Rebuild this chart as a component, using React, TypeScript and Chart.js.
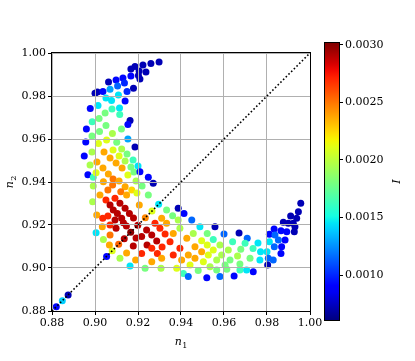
import React, { useEffect, useRef } from "react";
import { Chart, registerables } from "chart.js";

Chart.register(...registerables);

// ---------------- data ----------------
const n1Values = [
  // lower-left points on the diagonal
  0.8820, 0.8848, 0.8875,
  // points on the diagonal
  0.9054, 0.9080, 0.9110, 0.9136, 0.9166, 0.9199, 0.9234, 0.9265, 0.9296,
  // upper arm
  0.9298, 0.9260, 0.9223, 0.9186, 0.9167, 0.9237, 0.9205, 0.9202, 0.9209, 0.9167,
  0.9130, 0.9098, 0.9063, 0.9137, 0.9105, 0.9070, 0.9179, 0.9011, 0.9000, 0.9037,
  0.9149, 0.9109, 0.9051, 0.9077, 0.9140, 0.8978, 0.9014, 0.9079, 0.9114, 0.9115,
  0.9047, 0.9019, 0.9163, 0.8987, 0.9051, 0.9153, 0.9123, 0.8960, 0.9021, 0.9081,
  0.8986, 0.9153, 0.8957, 0.9054, 0.9016, 0.9101, 0.9186,
  // core, upper part
  0.8950, 0.8986, 0.9042, 0.9084, 0.9124, 0.9070, 0.9112, 0.9149, 0.9098, 0.9140,
  0.9177, 0.8977, 0.9009, 0.9126, 0.9167, 0.9200, 0.8967, 0.8992, 0.9005, 0.9037,
  0.9062, 0.9084, 0.9153, 0.9181, 0.9209, 0.9248, 0.9271, 0.9191, 0.9219, 0.9248,
  0.8992, 0.9039, 0.9082, 0.9112, 0.9140, 0.9171, 0.9120, 0.9147, 0.9023, 0.9051,
  0.8989, 0.9093, 0.9206, 0.9195,
  // core, middle
  0.9116, 0.9140, 0.9160, 0.9070, 0.9085, 0.9104, 0.9124, 0.9132, 0.9179, 0.9008,
  0.9036, 0.9070, 0.9098, 0.9005, 0.9039, 0.9067, 0.9279, 0.9302, 0.9240, 0.9264,
  0.9217, 0.9242, 0.9217, 0.9147, 0.9310, 0.9333, 0.9326, 0.9349, 0.9287, 0.9264,
  0.9290, 0.9310, 0.9178, 0.9034, 0.9116, 0.9163, 0.9189, 0.9233, 0.9264, 0.9307,
  0.9070, 0.9146, 0.9191, 0.9093, 0.9060, 0.9060, 0.9312,
  // right arm
  0.9387, 0.9414, 0.9450, 0.9488, 0.9558, 0.9600, 0.9640, 0.9678, 0.9670, 0.9333,
  0.9361, 0.9395, 0.9387, 0.9457, 0.9522, 0.9550, 0.9581, 0.9620, 0.9663, 0.9496,
  0.9522, 0.9550, 0.9589, 0.9628, 0.9674, 0.9427, 0.9465, 0.9496, 0.9527, 0.9566,
  0.9605, 0.9364, 0.9395, 0.9434, 0.9465, 0.9504, 0.9535, 0.9566, 0.9364, 0.9403,
  0.9442, 0.9480, 0.9380, 0.9411, 0.9434, 0.9520, 0.9581, 0.9647, 0.9613,
  0.9674, 0.9736, 0.9708, 0.9758, 0.9735, 0.9770, 0.9767, 0.9705, 0.9957, 0.9946,
  0.9910, 0.9938, 0.9876, 0.9899, 0.9922, 0.9930, 0.9927, 0.9833, 0.9865, 0.9892,
  0.9811, 0.9837, 0.9884, 0.9853, 0.9811, 0.9834, 0.9865, 0.9868, 0.9800, 0.9806,
  0.9829, 0.9803, 0.9721, 0.9698,
];

const n2Values = [
  0.8820, 0.8848, 0.8875,
  0.9054, 0.9080, 0.9110, 0.9136, 0.9166, 0.9199, 0.9234, 0.9265, 0.9296,
  0.9958, 0.9951, 0.9944, 0.9937, 0.9926, 0.9912, 0.9916, 0.9895, 0.9879, 0.9893,
  0.9884, 0.9874, 0.9865, 0.9860, 0.9847, 0.9831, 0.9836, 0.9819, 0.9813, 0.9821,
  0.9821, 0.9805, 0.9791, 0.9779, 0.9777, 0.9742, 0.9756, 0.9740, 0.9744, 0.9714,
  0.9721, 0.9695, 0.9686, 0.9680, 0.9663, 0.9667, 0.9647, 0.9647, 0.9635, 0.9626,
  0.9614, 0.9600, 0.9586, 0.9595, 0.9579, 0.9585, 0.9563,
  0.9521, 0.9540, 0.9540, 0.9549, 0.9553, 0.9512, 0.9521, 0.9530, 0.9488, 0.9498,
  0.9502, 0.9479, 0.9493, 0.9465, 0.9470, 0.9474, 0.9434, 0.9422, 0.9443, 0.9465,
  0.9437, 0.9414, 0.9433, 0.9447, 0.9448, 0.9422, 0.9394, 0.9405, 0.9381, 0.9340,
  0.9381, 0.9401, 0.9386, 0.9405, 0.9378, 0.9363, 0.9355, 0.9340, 0.9340, 0.9316,
  0.9308, 0.9324, 0.9293, 0.9349,
  0.9301, 0.9278, 0.9254, 0.9293, 0.9270, 0.9254, 0.9231, 0.9211, 0.9233, 0.9247,
  0.9231, 0.9200, 0.9185, 0.9164, 0.9133, 0.9107, 0.9208, 0.9185, 0.9177, 0.9153,
  0.9146, 0.9107, 0.9068, 0.9070, 0.9231, 0.9208, 0.9158, 0.9122, 0.9126, 0.9092,
  0.9068, 0.9045, 0.9102, 0.9192, 0.9045, 0.9009, 0.9037, 0.8999, 0.9029, 0.8999,
  0.9153, 0.9195, 0.9140, 0.9223, 0.9242, 0.9363, 0.9098,
  0.9278, 0.9254, 0.9223, 0.9192, 0.9192, 0.9158, 0.9122, 0.9087, 0.9163, 0.9270,
  0.9243, 0.9185, 0.9223, 0.9161, 0.9161, 0.9133, 0.9107, 0.9084, 0.9056, 0.9127,
  0.9107, 0.9084, 0.9060, 0.9037, 0.9019, 0.9138, 0.9099, 0.9076, 0.9060, 0.9037,
  0.9014, 0.9161, 0.9092, 0.9060, 0.9045, 0.9029, 0.9006, 0.8991, 0.9060, 0.9037,
  0.9014, 0.8988, 0.8999, 0.8975, 0.8961, 0.8955, 0.8960, 0.8963, 0.8994,
  0.8991, 0.8983, 0.9138, 0.9116, 0.9091, 0.9076, 0.9037, 0.8991, 0.9301, 0.9262,
  0.9242, 0.9231, 0.9213, 0.9208, 0.9208, 0.9192, 0.9169, 0.9181, 0.9173, 0.9169,
  0.9157, 0.9153, 0.9130, 0.9130, 0.9122, 0.9099, 0.9068, 0.9099, 0.9076, 0.9045,
  0.9037, 0.9014, 0.9045, 0.9115,
];

const intensityValues = [
  0.00092, 0.0014, 0.00072,
  0.00092, 0.0021, 0.00255, 0.0029, 0.003, 0.0029, 0.00245, 0.0021, 0.00145,
  0.00072, 0.00072, 0.00072, 0.00072, 0.00072, 0.00072, 0.00072, 0.00072, 0.00072, 0.00092,
  0.00092, 0.00092, 0.00072, 0.001, 0.00115, 0.0013, 0.00072, 0.00072, 0.00072, 0.00092,
  0.001, 0.00145, 0.00145, 0.00145, 0.00092, 0.00092, 0.00145, 0.00163, 0.00145, 0.00163,
  0.0018, 0.0018, 0.00072, 0.00163, 0.0018, 0.00092, 0.0018, 0.00092, 0.0018, 0.00195,
  0.0018, 0.0013, 0.00092, 0.0021, 0.0021, 0.0018, 0.00072,
  0.00092, 0.00195, 0.00237, 0.0021, 0.00195, 0.00237, 0.0021, 0.0018, 0.00237, 0.00195,
  0.00163, 0.00195, 0.00237, 0.00237, 0.0018, 0.00145, 0.00092, 0.00163, 0.0021, 0.00237,
  0.00237, 0.0025, 0.0021, 0.0018, 0.00092, 0.00092, 0.00072, 0.00195, 0.0018, 0.0018,
  0.00195, 0.00237, 0.0025, 0.00237, 0.00237, 0.00225, 0.0025, 0.00237, 0.00237, 0.0027,
  0.00195, 0.0027, 0.00237, 0.0021,
  0.0029, 0.0029, 0.0029, 0.0029, 0.0029, 0.0029, 0.0029, 0.0029, 0.0029, 0.00237,
  0.0027, 0.0027, 0.0029, 0.00145, 0.00195, 0.00237, 0.0027, 0.0027, 0.0029, 0.0029,
  0.0029, 0.0029, 0.0027, 0.00237, 0.00237, 0.00237, 0.0027, 0.0027, 0.0029, 0.0027,
  0.0027, 0.00237, 0.0029, 0.00237, 0.00195, 0.00145, 0.00237, 0.0018, 0.00237, 0.00195,
  0.0025, 0.0029, 0.0029, 0.0029, 0.0027, 0.0025, 0.0027,
  0.00072, 0.00092, 0.00115, 0.00145, 0.00072, 0.00115, 0.00163, 0.0018, 0.00072, 0.0018,
  0.0018, 0.00195, 0.00195, 0.00195, 0.0018, 0.00163, 0.00195, 0.00195, 0.00195, 0.0021,
  0.0021, 0.0021, 0.00195, 0.0018, 0.0018, 0.00237, 0.00237, 0.00237, 0.0021, 0.00195,
  0.0018, 0.00237, 0.0027, 0.00237, 0.00237, 0.0021, 0.00195, 0.0018, 0.0027, 0.00237,
  0.0021, 0.0018, 0.0021, 0.00163, 0.00115, 0.00092, 0.00115, 0.00092, 0.0018,
  0.00163, 0.00092, 0.00115, 0.00145, 0.00163, 0.00145, 0.00145, 0.00145, 0.00072, 0.00072,
  0.00072, 0.00072, 0.00072, 0.00072, 0.00072, 0.00072, 0.00072, 0.00092, 0.00092, 0.00092,
  0.00092, 0.00115, 0.00092, 0.00115, 0.00145, 0.00115, 0.00092, 0.00092, 0.00145, 0.00115,
  0.00115, 0.00072, 0.0018, 0.00163,
];

const axisTicks = [0.88, 0.9, 0.92, 0.94, 0.96, 0.98, 1.0];
const colorbarTicks = [0.001, 0.0015, 0.002, 0.0025, 0.003];
const colorMin = 0.00061;
const colorMax = 0.003015;
const diagonalEnds = [0.88, 1.0];

// ---------------- styling helpers ----------------
const W = 415;
const H = 361;
const FONT = "DejaVu Serif";

const JET: Record<string, number[][]> = {
  r: [[0, 0], [0.35, 0], [0.66, 1], [0.89, 1], [1, 0.5]],
  g: [[0, 0], [0.125, 0], [0.375, 1], [0.64, 1], [0.91, 0], [1, 0]],
  b: [[0, 0.5], [0.11, 1], [0.34, 1], [0.65, 0], [1, 0]],
};

function seg(points: number[][], t: number) {
  for (let i = 1; i < points.length; i++) {
    const [x0, y0] = points[i - 1];
    const [x1, y1] = points[i];
    if (t <= x1) return y0 + ((y1 - y0) * (t - x0)) / (x1 - x0);
  }
  return points[points.length - 1][1];
}

function jet(t: number) {
  const u = Math.min(1, Math.max(0, t));
  const r = Math.round(255 * seg(JET.r, u));
  const g = Math.round(255 * seg(JET.g, u));
  const b = Math.round(255 * seg(JET.b, u));
  return `rgb(${r},${g},${b})`;
}

function drawSubscripted(ctx: CanvasRenderingContext2D, main: string, sub: string, cx: number, baseline: number) {
  ctx.font = `italic 11px "${FONT}"`;
  const w1 = ctx.measureText(main).width;
  ctx.font = `8px "${FONT}"`;
  const w2 = ctx.measureText(sub).width;
  const x0 = cx - (w1 + w2 + 0.5) / 2;
  ctx.textAlign = "left";
  ctx.textBaseline = "alphabetic";
  ctx.font = `italic 11px "${FONT}"`;
  ctx.fillText(main, x0, baseline);
  ctx.font = `8px "${FONT}"`;
  ctx.fillText(sub, x0 + w1 + 0.5, baseline + 2.5);
}

const mainPlugin = {
  id: "mplDecor",
  afterDatasetDraw(chart: any, args: any) {
    if (args.index !== 1) return;
    const { ctx, chartArea: a, scales } = chart;
    ctx.save();
    ctx.strokeStyle = "#b0b0b0";
    ctx.lineWidth = 1;
    for (const v of axisTicks) {
      const x = Math.floor(scales.x.getPixelForValue(v)) + 0.5;
      const y = Math.floor(scales.y.getPixelForValue(v)) + 0.5;
      ctx.beginPath();
      ctx.moveTo(x, a.top);
      ctx.lineTo(x, a.bottom);
      ctx.moveTo(a.left, y);
      ctx.lineTo(a.right, y);
      ctx.stroke();
    }
    ctx.restore();
  },
  afterDatasetsDraw(chart: any) {
    const { ctx, chartArea: a } = chart;
    ctx.save();
    ctx.strokeStyle = "#000";
    ctx.lineWidth = 1;
    ctx.strokeRect(a.left - 0.5, a.top - 0.5, a.right - a.left + 1, a.bottom - a.top + 1);
    ctx.restore();
  },
  afterDraw(chart: any) {
    const { ctx, chartArea: a } = chart;
    ctx.save();
    ctx.fillStyle = "#000";
    drawSubscripted(ctx, "n", "1", (a.left + a.right) / 2, 345);
    ctx.translate(13, (a.top + a.bottom) / 2);
    ctx.rotate(-Math.PI / 2);
    drawSubscripted(ctx, "n", "2", 0, 0);
    ctx.restore();
  },
};

const colorbarPlugin = {
  id: "colorbarFill",
  afterDraw(chart: any) {
    const { ctx, chartArea: a } = chart;
    ctx.save();
    const grad = ctx.createLinearGradient(0, a.bottom, 0, a.top);
    for (let i = 0; i <= 40; i++) grad.addColorStop(i / 40, jet(i / 40));
    ctx.fillStyle = grad;
    ctx.fillRect(a.left, a.top, a.right - a.left, a.bottom - a.top);
    ctx.strokeStyle = "#000";
    ctx.lineWidth = 1;
    ctx.strokeRect(a.left - 0.5, a.top - 0.5, a.right - a.left + 1, a.bottom - a.top + 1);
    ctx.fillStyle = "#000";
    ctx.font = `italic 11px "${FONT}"`;
    ctx.textAlign = "center";
    ctx.textBaseline = "middle";
    ctx.translate(397, (a.top + a.bottom) / 2);
    ctx.rotate(-Math.PI / 2);
    ctx.fillText("I", 0, 0);
    ctx.restore();
  },
};

const tickFont = { family: FONT, size: 11 };

function zeroPadding(s: any) {
  s.paddingLeft = 0;
  s.paddingRight = 0;
  s.paddingTop = 0;
  s.paddingBottom = 0;
}

export default function App() {
  const mainRef = useRef<HTMLCanvasElement>(null);
  const cbRef = useRef<HTMLCanvasElement>(null);

  useEffect(() => {
    const points = n1Values.map((x, i) => ({ x, y: n2Values[i] }));
    const colors = intensityValues.map((v) => jet((v - colorMin) / (colorMax - colorMin)));

    const main = new Chart(mainRef.current as HTMLCanvasElement, {
      type: "scatter",
      data: {
        datasets: [
          {
            type: "line",
            data: diagonalEnds.map((v) => ({ x: v, y: v })),
            borderColor: "#000",
            borderWidth: 1.6,
            borderDash: [1.6, 2.2],
            pointRadius: 0,
            fill: false,
            order: 0,
          } as any,
          {
            type: "scatter",
            data: points,
            pointBackgroundColor: colors,
            pointBorderColor: colors,
            pointBorderWidth: 0,
            pointRadius: 3.5,
            pointHoverRadius: 3.5,
            showLine: false,
            order: 1,
          } as any,
        ],
      },
      options: {
        animation: false,
        responsive: false,
        maintainAspectRatio: false,
        devicePixelRatio: 1,
        events: [],
        layout: { padding: { left: 0, top: 53, right: 105, bottom: 0 } },
        plugins: { legend: { display: false }, tooltip: { enabled: false } },
        scales: {
          x: {
            type: "linear",
            min: 0.88,
            max: 1.0,
            afterBuildTicks: (s: any) => {
              s.ticks = axisTicks.map((value) => ({ value }));
            },
            afterFit: (s: any) => {
              s.height = 50;
              zeroPadding(s);
            },
            ticks: {
              callback: (v: any) => Number(v).toFixed(2),
              font: tickFont,
              color: "#000",
              padding: 2,
              maxRotation: 0,
              autoSkip: false,
            },
            grid: { display: true, drawOnChartArea: false, drawTicks: true, tickLength: 4, tickColor: "#000", tickWidth: 1 },
            border: { display: false },
          },
          y: {
            type: "linear",
            min: 0.88,
            max: 1.0,
            afterBuildTicks: (s: any) => {
              s.ticks = axisTicks.map((value) => ({ value }));
            },
            afterFit: (s: any) => {
              s.width = 52;
              zeroPadding(s);
            },
            ticks: {
              callback: (v: any) => Number(v).toFixed(2),
              font: tickFont,
              color: "#000",
              padding: 2,
              autoSkip: false,
            },
            grid: { display: true, drawOnChartArea: false, drawTicks: true, tickLength: 4, tickColor: "#000", tickWidth: 1 },
            border: { display: false },
          },
        },
      } as any,
      plugins: [mainPlugin],
    });

    const cb = new Chart(cbRef.current as HTMLCanvasElement, {
      type: "scatter",
      data: { datasets: [] },
      options: {
        animation: false,
        responsive: false,
        maintainAspectRatio: false,
        devicePixelRatio: 1,
        events: [],
        layout: { padding: { left: 325, top: 43, right: 0, bottom: 41 } },
        plugins: { legend: { display: false }, tooltip: { enabled: false } },
        scales: {
          x: { type: "linear", display: false, min: 0, max: 1 },
          y: {
            type: "linear",
            position: "right",
            min: colorMin,
            max: colorMax,
            afterBuildTicks: (s: any) => {
              s.ticks = colorbarTicks.map((value) => ({ value }));
            },
            afterFit: (s: any) => {
              s.width = W - 339;
              zeroPadding(s);
            },
            ticks: {
              callback: (v: any) => Number(v).toFixed(4),
              font: tickFont,
              color: "#000",
              padding: 2,
              autoSkip: false,
            },
            grid: { display: true, drawOnChartArea: false, drawTicks: true, tickLength: 4, tickColor: "#000", tickWidth: 1 },
            border: { display: false },
          },
        },
      } as any,
      plugins: [colorbarPlugin],
    });

    return () => {
      main.destroy();
      cb.destroy();
    };
  }, []);

  return (
    <div style={{ position: "absolute", left: 0, top: 0, width: W, height: H, background: "#fff" }}>
      <canvas ref={mainRef} width={W} height={H} style={{ position: "absolute", left: 0, top: 0, width: W, height: H }} />
      <canvas ref={cbRef} width={W} height={H} style={{ position: "absolute", left: 0, top: 0, width: W, height: H }} />
    </div>
  );
}
